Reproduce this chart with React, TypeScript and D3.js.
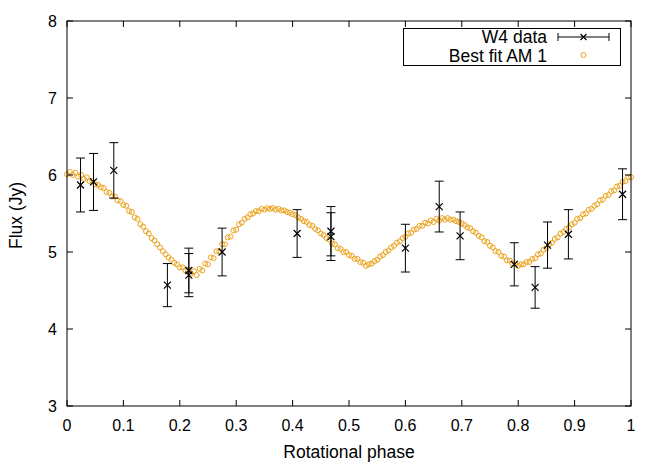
import * as d3 from "d3";

// W4 observations
const obsPhase = [0.024, 0.047, 0.083, 0.178, 0.216, 0.216, 0.275, 0.408, 0.468, 0.468, 0.600, 0.660, 0.697, 0.793, 0.830, 0.852, 0.889, 0.985];
const obsFlux = [5.87, 5.91, 6.06, 4.57, 4.76, 4.70, 5.00, 5.24, 5.27, 5.20, 5.05, 5.59, 5.21, 4.84, 4.54, 5.09, 5.23, 5.75];
const obsErr = [0.35, 0.37, 0.36, 0.28, 0.29, 0.28, 0.31, 0.31, 0.32, 0.31, 0.31, 0.33, 0.31, 0.28, 0.27, 0.30, 0.32, 0.33];

// best fit model, sampled at phase 0.00, 0.01, ... 1.00
const modelFluxA = [
  6.01, 6.00, 5.98, 5.95, 5.92, 5.88, 5.84, 5.78, 5.72, 5.67,
  5.61, 5.53, 5.45, 5.36, 5.27, 5.18, 5.10, 5.01, 4.93, 4.86,
  4.80, 4.76, 4.72, 4.70, 4.76, 4.84, 4.92, 5.01, 5.10, 5.20,
  5.29, 5.38, 5.45, 5.50, 5.53, 5.55, 5.56, 5.55, 5.54, 5.52,
  5.49, 5.45, 5.40, 5.35, 5.30, 5.24, 5.18, 5.11, 5.05, 5.00,
  4.96, 4.91, 4.87, 4.82, 4.85, 4.90, 4.96, 5.02, 5.08, 5.14,
  5.20, 5.25, 5.30, 5.34, 5.37, 5.39, 5.41, 5.42, 5.42, 5.40,
  5.37, 5.32, 5.27, 5.21, 5.14, 5.08, 5.01, 4.95, 4.89, 4.85,
  4.82, 4.84, 4.87, 4.92, 4.98, 5.05, 5.12, 5.19, 5.26, 5.32,
  5.38, 5.44, 5.50, 5.56, 5.62, 5.68, 5.74, 5.80, 5.86, 5.92,
  5.97,
];
// second pass, sampled at phase 0.005, 0.015, ... 0.995
const modelFluxB = [
  6.04, 6.03, 6.00, 5.97, 5.92, 5.87, 5.83, 5.77, 5.72, 5.66,
  5.60, 5.52, 5.43, 5.33, 5.24, 5.15, 5.06, 4.97, 4.90, 4.84,
  4.80, 4.77, 4.75, 4.78, 4.85, 4.93, 5.01, 5.10, 5.19, 5.28,
  5.36, 5.43, 5.49, 5.53, 5.56, 5.57, 5.57, 5.56, 5.54, 5.51,
  5.48, 5.43, 5.39, 5.34, 5.28, 5.22, 5.16, 5.10, 5.04, 5.00,
  4.95, 4.91, 4.86, 4.84, 4.88, 4.94, 5.00, 5.06, 5.12, 5.18,
  5.24, 5.29, 5.34, 5.38, 5.41, 5.43, 5.44, 5.44, 5.42, 5.39,
  5.35, 5.31, 5.25, 5.19, 5.13, 5.06, 5.00, 4.94, 4.89, 4.85,
  4.84, 4.87, 4.91, 4.97, 5.03, 5.10, 5.17, 5.24, 5.30, 5.36,
  5.43, 5.49, 5.55, 5.60, 5.67, 5.73, 5.79, 5.85, 5.91, 5.97,
];

const xTicks = [0, 0.1, 0.2, 0.3, 0.4, 0.5, 0.6, 0.7, 0.8, 0.9, 1];
const yTicks = [3, 4, 5, 6, 7, 8];

const W = 664, H = 465;
const margin = { top: 21, right: 33, bottom: 59, left: 67 };
const orange = "#eba21a";
const font = "'Liberation Sans', Arial, sans-serif";

const Cross = ({ x, y, s = 3.5 }) => (
  <path d={`M${x - s},${y - s}L${x + s},${y + s}M${x - s},${y + s}L${x + s},${y - s}`} stroke="#000" strokeWidth={1.2} />
);

export default function App() {
  const innerW = W - margin.left - margin.right;
  const innerH = H - margin.top - margin.bottom;
  const x = d3.scaleLinear().domain([0, 1]).range([margin.left, margin.left + innerW]);
  const y = d3.scaleLinear().domain([3, 8]).range([margin.top + innerH, margin.top]);

  const gridA = d3.range(modelFluxA.length).map(i => i / 100);
  const gridB = d3.range(modelFluxB.length).map(i => i / 100 + 0.005);
  const model = [
    ...modelFluxA.map((v, i) => [gridA[i], v]),
    ...modelFluxB.map((v, i) => [gridB[i], v]),
  ];

  const x0 = x.range()[0], x1 = x.range()[1];
  const y0 = y.range()[0], y1 = y.range()[1];
  const tk = 6;
  const cap = 4.5;

  return (
    <svg width={W} height={H} style={{ position: "absolute", left: 0, top: 0 }} fontFamily={font}>
      <rect width={W} height={H} fill="#fff" />

      {/* model */}
      {model.map(([p, v], i) => (
        <circle key={`m${i}`} cx={x(p)} cy={y(v)} r={2.5} fill="none" stroke={orange} strokeWidth={1} />
      ))}

      {/* observations */}
      {obsPhase.map((p, i) => {
        const cx = x(p);
        const top = y(obsFlux[i] + obsErr[i]);
        const bot = y(obsFlux[i] - obsErr[i]);
        return (
          <g key={`o${i}`}>
            <line x1={cx} x2={cx} y1={top} y2={bot} stroke="#000" strokeWidth={1} />
            <line x1={cx - cap} x2={cx + cap} y1={top} y2={top} stroke="#000" strokeWidth={1} />
            <line x1={cx - cap} x2={cx + cap} y1={bot} y2={bot} stroke="#000" strokeWidth={1} />
            <Cross x={cx} y={y(obsFlux[i])} />
          </g>
        );
      })}

      {/* ticks */}
      {xTicks.map(t => (
        <g key={`xt${t}`}>
          <line x1={x(t)} x2={x(t)} y1={y0} y2={y0 - tk} stroke="#000" />
          <line x1={x(t)} x2={x(t)} y1={y1} y2={y1 + tk} stroke="#000" />
          <text x={x(t)} y={y0 + 25} fontSize={16} textAnchor="middle">{t}</text>
        </g>
      ))}
      {yTicks.map(t => (
        <g key={`yt${t}`}>
          <line x1={x0} x2={x0 + tk} y1={y(t)} y2={y(t)} stroke="#000" />
          <line x1={x1} x2={x1 - tk} y1={y(t)} y2={y(t)} stroke="#000" />
          <text x={x0 - 10} y={y(t) + 6} fontSize={16} textAnchor="end">{t}</text>
        </g>
      ))}

      <rect x={x0} y={y1} width={x1 - x0} height={y0 - y1} fill="none" stroke="#000" strokeWidth={1} />

      {/* axis titles */}
      <text x={(x0 + x1) / 2} y={458} fontSize={17.5} textAnchor="middle">Rotational phase</text>
      <text transform={`translate(22,${(y0 + y1) / 2 + 2}) rotate(-90)`} fontSize={17.5} textAnchor="middle">Flux (Jy)</text>

      {/* legend */}
      <g>
        <rect x={403.5} y={28.5} width={217} height={37} fill="#fff" stroke="#000" strokeWidth={1} />
        <text x={547} y={43} fontSize={17.5} textAnchor="end">W4 data</text>
        <line x1={558} x2={609} y1={37} y2={37} stroke="#000" />
        <line x1={558} x2={558} y1={33} y2={41} stroke="#000" />
        <line x1={609} x2={609} y1={33} y2={41} stroke="#000" />
        <Cross x={583.5} y={37} s={3} />
        <text x={547} y={61.5} fontSize={17.5} textAnchor="end">Best fit AM 1</text>
        <circle cx={583.5} cy={55} r={2.5} fill="none" stroke={orange} strokeWidth={1} />
      </g>
    </svg>
  );
}
